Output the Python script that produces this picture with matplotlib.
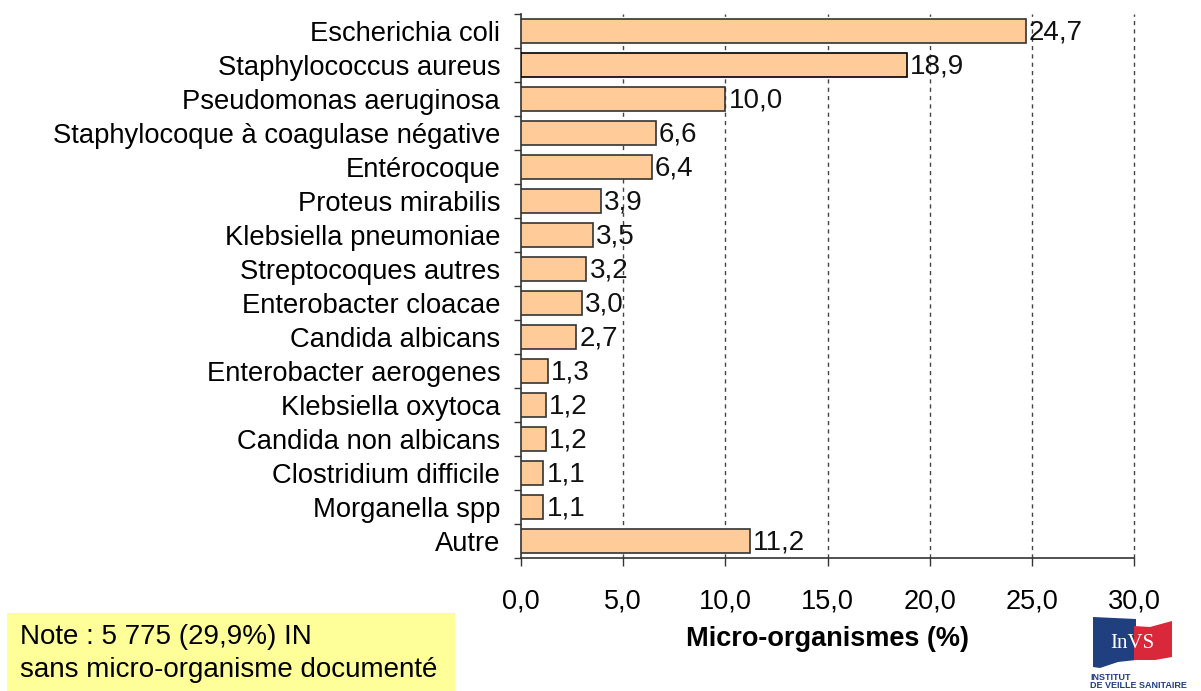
import matplotlib
matplotlib.use("Agg")
import matplotlib.pyplot as plt
import numpy as np
from matplotlib.patches import Rectangle, Polygon

categories = ["Escherichia coli", "Staphylococcus aureus", "Pseudomonas aeruginosa",
              "Staphylocoque à coagulase négative", "Entérocoque", "Proteus mirabilis",
              "Klebsiella pneumoniae", "Streptocoques autres", "Enterobacter cloacae",
              "Candida albicans", "Enterobacter aerogenes", "Klebsiella oxytoca",
              "Candida non albicans", "Clostridium difficile", "Morganella spp", "Autre"]
values = [24.7, 18.9, 10.0, 6.6, 6.4, 3.9, 3.5, 3.2, 3.0, 2.7, 1.3, 1.2, 1.2, 1.1, 1.1, 11.2]
xticks = [0, 5, 10, 15, 20, 25, 30]

plt.rcParams['font.family'] = ['Liberation Sans', 'DejaVu Sans']

fig = plt.figure(figsize=(12.01, 6.91), dpi=100)
ax = fig.add_axes([521/1201, 1-558/691, (1134-521)/1201, (558-14)/691])

n = len(categories)
y = np.arange(n)
edges = ['#333333'] * n
edges[1] = '#000000'
ax.barh(y, values, height=0.7, color='#FFCC99', edgecolor=edges, linewidth=1.2, zorder=3)
for yi, v in zip(y, values):
    ax.text(v + 0.15, yi + 0.05, f"{v:.1f}".replace('.', ','), va='center', ha='left',
            fontsize=20, color='#111111', zorder=4)

ax.set_ylim(n - 0.5, -0.5)
ax.set_xlim(0, 30)
ax.set_yticks(y)
ax.set_yticklabels(categories, fontsize=19.7)
ax.tick_params(axis='y', which='major', length=0, pad=15)
ax.set_yticks(np.arange(-0.5, n, 1), minor=True)
ax.tick_params(axis='y', which='minor', length=5, width=1, color='#333333')
ax.set_xticks(xticks)
ax.set_xticklabels([f"{t:.1f}".replace('.', ',') for t in xticks], fontsize=19.5)
ax.tick_params(axis='x', length=6, width=1, color='#333333', pad=16)
for t in xticks[1:]:
    ax.axvline(t, linestyle=(0, (3, 3)), color='#444444', linewidth=1, zorder=0, clip_on=False)
for s in ['top', 'right']:
    ax.spines[s].set_visible(False)
for s in ['left', 'bottom']:
    ax.spines[s].set_color('#333333')
    ax.spines[s].set_linewidth(1.2)
ax.set_xlabel("Micro-organismes (%)", fontsize=19.5, fontweight='bold', labelpad=8)

# Note box
fig.patches.append(Rectangle((7/1201, 0), (455-7)/1201, (691-613)/691, transform=fig.transFigure,
                             facecolor='#FFFF99', edgecolor='none'))
fig.text(20/1201, 1-637/691, "Note : 5 775 (29,9%) IN", fontsize=20, va='center', ha='left')
fig.text(20/1201, 1-670/691, "sans micro-organisme documenté", fontsize=20, va='center', ha='left')

# Logo
def fx(px): return px/1201
def fy(py): return 1-py/691
fig.patches.append(Polygon([(fx(1093), fy(617)), (fx(1136), fy(619)), (fx(1136), fy(660)),
                            (fx(1118), fy(662)), (fx(1100), fy(668)), (fx(1093), fy(667))], closed=True,
                           transform=fig.transFigure, facecolor='#1F3F7F', edgecolor='none'))
fig.patches.append(Polygon([(fx(1134), fy(626)), (fx(1150), fy(627)), (fx(1172), fy(621)),
                            (fx(1172), fy(657)), (fx(1155), fy(660)), (fx(1134), fy(660))], closed=True,
                           transform=fig.transFigure, facecolor='#D8283A', edgecolor='none'))
fig.text(fx(1132), fy(643), "InVS", fontsize=15, color='white', ha='center', va='center',
         family=['Liberation Serif', 'DejaVu Serif'])
fig.text(fx(1090), fy(677), "INSTITUT", fontsize=6.5, color='#1F3F7F', fontweight='bold', va='center')
fig.text(fx(1090), fy(686), "DE VEILLE SANITAIRE", fontsize=6.5, color='#1F3F7F', fontweight='bold', va='center')

fig.savefig("out.png", dpi=100)
